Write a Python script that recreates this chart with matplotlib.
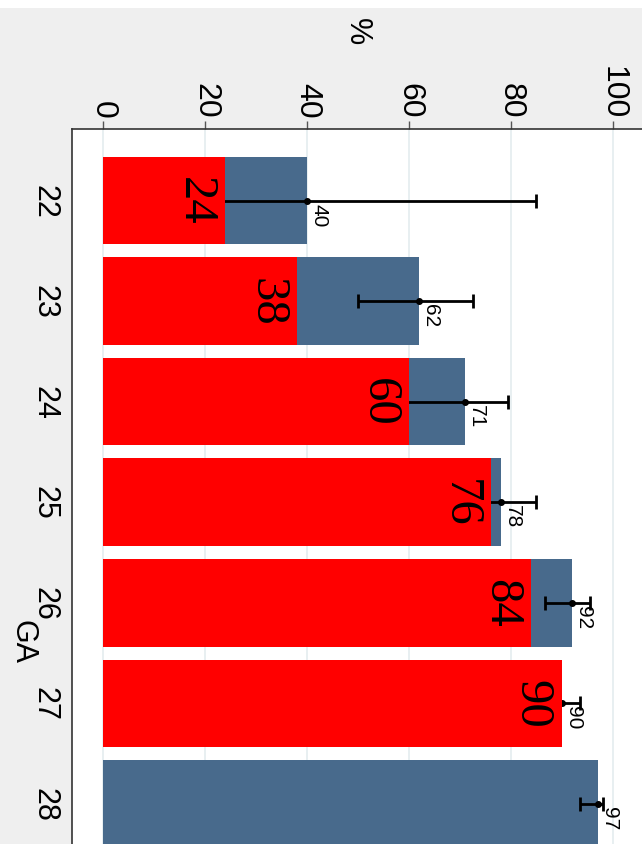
import matplotlib
matplotlib.use("Agg")
import matplotlib.pyplot as plt
import numpy as np
from matplotlib.patches import Rectangle

# Survival (%) by gestational age (GA, weeks)
ga = [22, 23, 24, 25, 26, 27, 28]
survival_all = [40, 62, 71, 78, 92, 90, 97]
ci_low = [10, 50, 57, 71, 86.7, 86.5, 93.5]
ci_high = [85, 72.5, 79.5, 85, 95.6, 93.5, 98]
survival_red = [24, 38, 60, 76, 84, 90, None]
value_ticks = [0, 20, 40, 60, 80, 100]

BLUE = "#486a8c"
RED = "#ff0000"

plt.rcParams["font.family"] = ["Liberation Sans", "DejaVu Sans"]

W, H = 642, 845
fig = plt.figure(figsize=(W / 100, H / 100), dpi=100, facecolor="#efefef")
fig.patches.append(Rectangle((0, 1 - 9 / H), 1, 9 / H, transform=fig.transFigure,
                             facecolor="white", edgecolor="none", zorder=0))

ax = fig.add_axes([72 / W, 0, 1 - 72 / W, 1 - 130 / H])
ax.set_facecolor("white")

bar_h = 0.87
ax.barh(ga, survival_all, height=bar_h, color=BLUE, zorder=2)

mean = np.array(survival_all, dtype=float)
xerr = [mean - np.array(ci_low), np.array(ci_high) - mean]
ax.errorbar(mean, ga, xerr=xerr, fmt="o", ms=4, color="black", ecolor="black",
            elinewidth=2, capsize=5, capthick=2, zorder=3)

red_idx = [i for i, v in enumerate(survival_red) if v is not None]
red_ga = [ga[i] for i in red_idx]
red_vals = [survival_red[i] for i in red_idx]
ax.barh(red_ga, red_vals, height=bar_h, color=RED, zorder=4)

# value labels
for y, v in zip(ga, survival_all):
    ax.annotate(f"{v:g}", (v, y), xytext=(1.5, -1.5), textcoords="offset points",
                rotation=-90, ha="left", va="top", fontsize=15, zorder=6)
for y, v in zip(red_ga, red_vals):
    ax.annotate(f"{v:g}", (v, y), xytext=(-6, 0), textcoords="offset points",
                rotation=-90, ha="right", va="center", fontsize=35,
                family="Liberation Serif", zorder=6)

ax.set_xlim(-6.08, 105.7)
ax.set_ylim(28.398, 21.289)

ax.xaxis.tick_top()
ax.set_xticks(value_ticks)
ax.set_xticklabels([str(t) for t in value_ticks])
ax.tick_params(axis="x", top=True, bottom=False, labeltop=True, labelbottom=False,
               length=6, width=1, color="#555555", pad=2, labelsize=23,
               labelrotation=-90)
ax.set_yticks(ga)
ax.set_yticklabels([str(g) for g in ga])
ax.tick_params(axis="y", length=0, pad=9, labelsize=22, labelrotation=-90)
for lab in ax.get_yticklabels():
    lab.set_va("center")

ax.set_axisbelow(True)
ax.grid(axis="x", color="#e4ecef", lw=1.2, zorder=0)

for s in ("right", "bottom"):
    ax.spines[s].set_visible(False)
for s in ("top", "left"):
    ax.spines[s].set_color("#333333")
    ax.spines[s].set_linewidth(1.2)

fig.text(357 / W, 1 - 32 / H, "%", rotation=-90, ha="center", va="center", fontsize=22)
fig.text(22 / W, 1 - 642 / H, "GA", rotation=-90, ha="center", va="center", fontsize=22)

fig.savefig("out.png", dpi=100, facecolor=fig.get_facecolor())
